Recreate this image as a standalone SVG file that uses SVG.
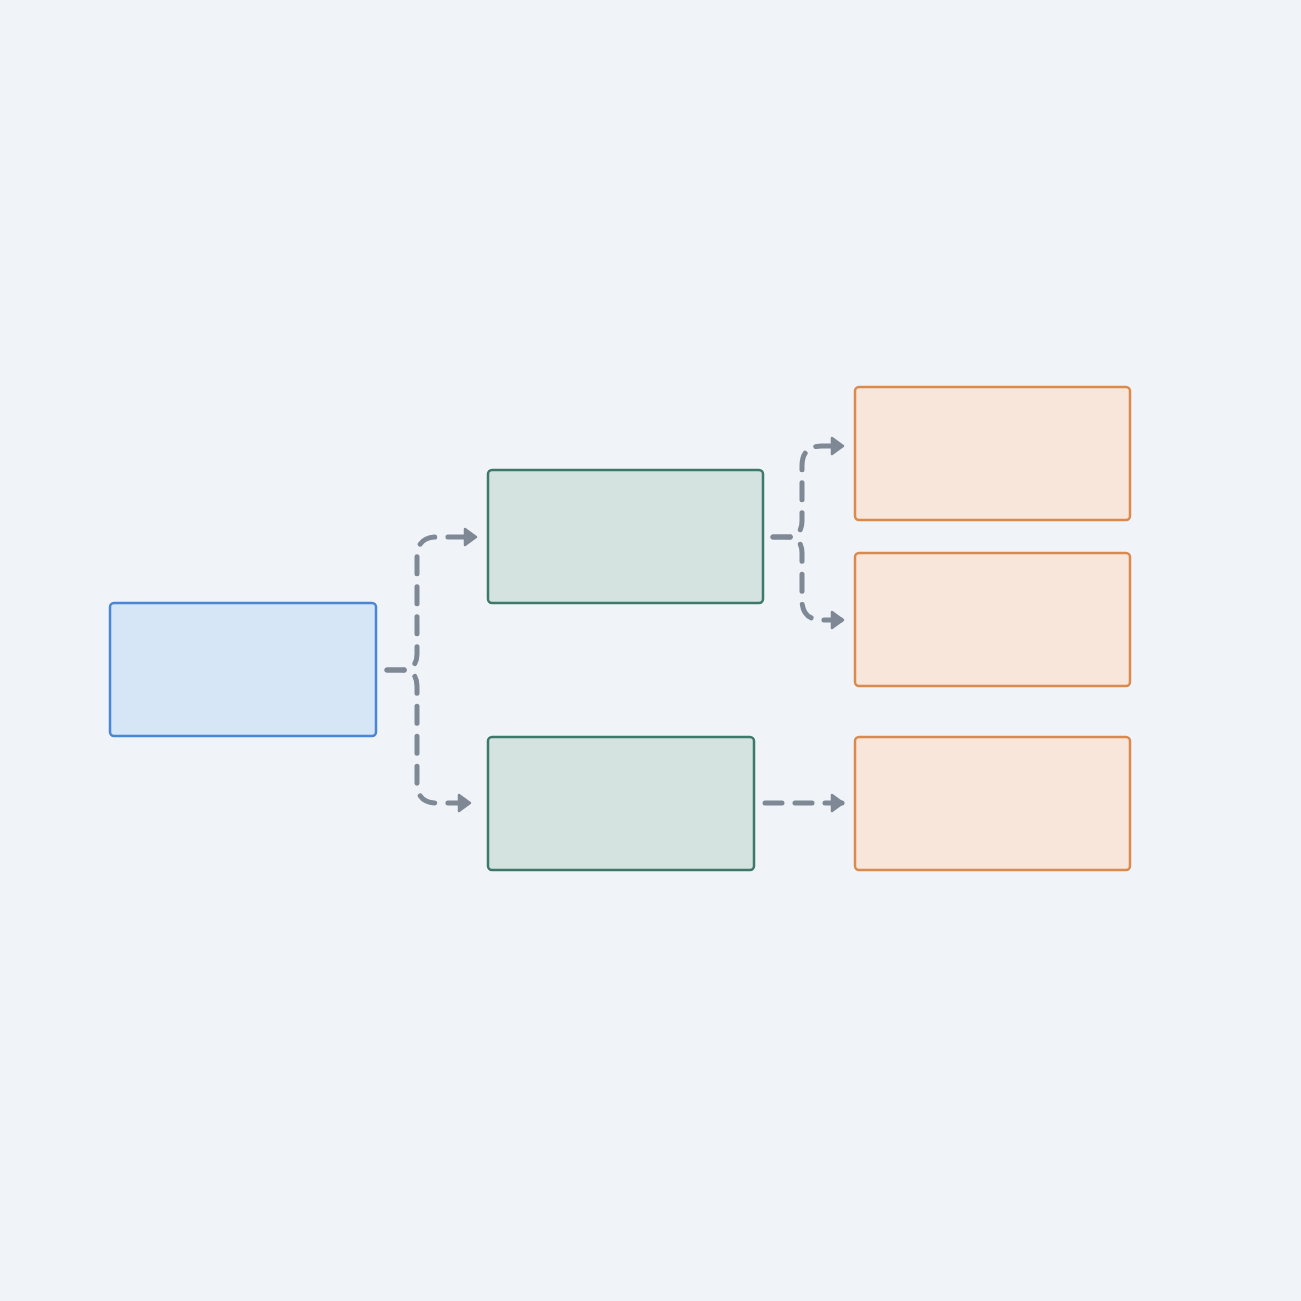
<svg xmlns="http://www.w3.org/2000/svg" width="1301" height="1301" viewBox="0 0 1301 1301">
<style>
.root{fill:#d6e6f6;stroke:#4a86d6;stroke-width:2.5}
.mid{fill:#d4e3e0;stroke:#3d7868;stroke-width:2.5}
.leaf{fill:#f8e6db;stroke:#db8a4e;stroke-width:2.5}
.edge{fill:none;stroke:#7f8895;stroke-width:5;stroke-linecap:round;stroke-dasharray:17 13;marker-end:url(#arr)}
</style>
<defs>
<marker id="arr" markerUnits="userSpaceOnUse" markerWidth="20" markerHeight="24" refX="14" refY="12" orient="auto">
<path d="M3,4 L14,12 L3,20 Z" fill="#7f8895" stroke="#7f8895" stroke-width="2.5" stroke-linejoin="round"/>
</marker>
</defs>
<rect width="1301" height="1301" fill="#f0f4f8"/>
<g id="connectors">
<path class="edge" d="M387,670 H401 Q417,670 417,654 V557 Q417,537 437,537 H476"/>
<path class="edge" d="M387,670 H401 Q417,670 417,686 V783 Q417,803 437,803 H470"/>
<path class="edge" d="M773,537 H786 Q802,537 802,521 V466 Q802,446 822,446 H843"/>
<path class="edge" d="M773,537 H786 Q802,537 802,553 V600 Q802,620 822,620 H843"/>
<path class="edge" d="M765,803 H843"/>
</g>
<g id="node-root"><rect class="root" x="110" y="603" width="266" height="133" rx="4"/></g>
<g id="node-mid1"><rect class="mid" x="488" y="470" width="275" height="133" rx="4"/></g>
<g id="node-mid2"><rect class="mid" x="488" y="737" width="266" height="133" rx="4"/></g>
<g id="node-leaf1"><rect class="leaf" x="855" y="387" width="275" height="133" rx="4"/></g>
<g id="node-leaf2"><rect class="leaf" x="855" y="553" width="275" height="133" rx="4"/></g>
<g id="node-leaf3"><rect class="leaf" x="855" y="737" width="275" height="133" rx="4"/></g>
</svg>
